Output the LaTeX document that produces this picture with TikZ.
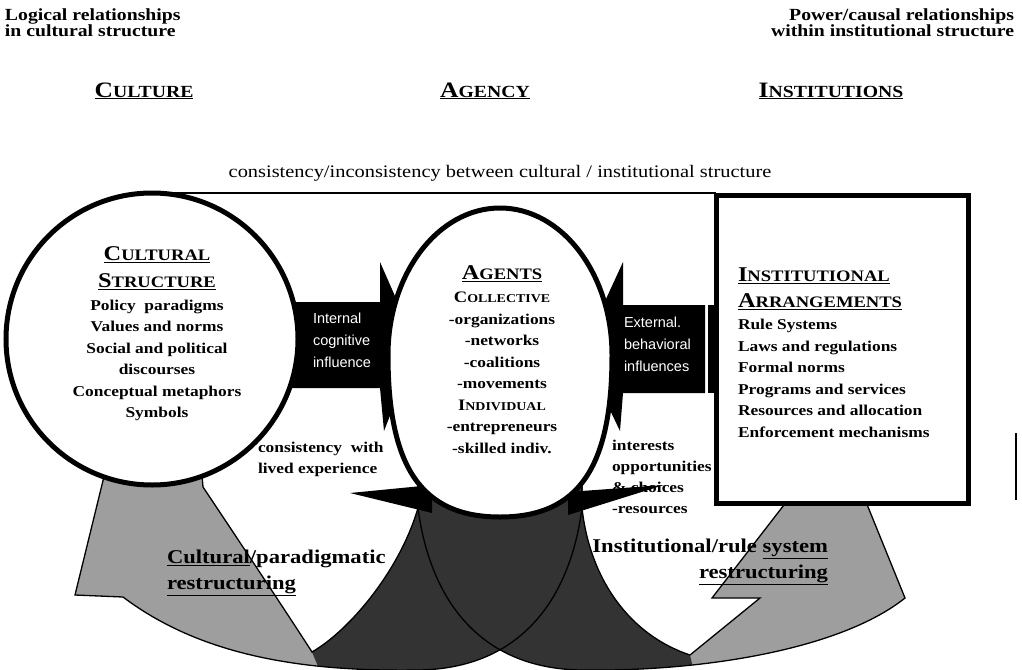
\documentclass[tikz,border=0pt]{standalone}
\usepackage{fontspec}
\setmainfont[FakeStretch=1.16]{Liberation Serif}
\newfontfamily\sansf{Liberation Sans}
\newcommand\SCx[4]{{\fontsize{#1}{#1}\selectfont #3}{\fontsize{#2}{#2}\selectfont #4}}
\definecolor{lightstip}{gray}{0.62}
\definecolor{darkstip}{gray}{0.2}
\tikzset{
  bodytxt/.style={font=\bfseries\fontsize{15}{21.5}\selectfont},
  arrtxt/.style={font=\sansf\fontsize{14.5}{22}\selectfont, text=white, align=left},
  bigtxt/.style={font=\bfseries\fontsize{19.5}{26.5}\selectfont},
  toptxt/.style={font=\bfseries\fontsize{17}{16.5}\selectfont},
  hdr/.style={font=\bfseries},
  thickline/.style={line width=5pt},
  bandline/.style={line width=1.3pt},
}
\def\leftband{(110,452) -- (75,595) -- (123,597)
  .. controls (200,655) and (300,672) .. (420,670)
  .. controls (520,668) and (570,600) .. (582,508)
  -- (582,480) -- (418,480) -- (418,508)
  .. controls (400,570) and (350,630) .. (312,652)
  .. controls (285,610) and (235,535) .. (203,487)
  -- (200,452) -- cycle}
\def\rightband{(418,480) -- (418,508)
  .. controls (430,600) and (480,668) .. (580,670)
  .. controls (700,672) and (840,650) .. (905,598)
  -- (853,470) -- (811,470) -- (712,598) -- (760,598) -- (690,655)
  .. controls (630,635) and (590,580) .. (582,508)
  -- (582,480) -- cycle}
\begin{document}
\begin{tikzpicture}[x=1pt,y=-1pt, every node/.style={inner sep=0pt, outer sep=0pt}]
\useasboundingbox[fill=white] (0,0) rectangle (1022,669);

% curved restructuring arrows
\fill[lightstip] \leftband;
\fill[lightstip] \rightband;
\begin{scope}
  \clip (312,652) -- (328,690) -- (698,690) -- (690,655) -- (640,460) -- (370,460) -- cycle;
  \fill[darkstip] \leftband;
  \fill[darkstip] \rightband;
\end{scope}
\draw[bandline] \leftband;
\draw[bandline] \rightband;

% black influence arrows
\fill[black] (285,302) -- (380,302) -- (380,262) -- (402,312) -- (440,345) -- (402,385) -- (384,431) -- (380,388) -- (285,388) -- cycle;
\fill[black] (705,305) -- (623,305) -- (623,262) -- (600,312) -- (560,345) -- (598,385) -- (620,431) -- (623,393) -- (705,393) -- cycle;
\fill[black] (708,305) rectangle (716,393);
% small barbs below agents
\fill[black] (350,493) -- (432,485) -- (432,513) -- cycle;
\fill[black] (664,485) -- (568,492) -- (568,515) -- cycle;

% cultural structure circle
\node[circle, draw, thickline, fill=white, minimum size=292pt] (cultcirc) at (152,339) {};
% agents oval
\filldraw[fill=white, thickline] (388,355) .. controls (388,274) and (438,208) .. (500,208)
  .. controls (562,208) and (612,274) .. (612,355)
  .. controls (612,468) and (578,517) .. (500,517)
  .. controls (422,517) and (388,468) .. (388,355) -- cycle;
% institutional box
\node[draw, thickline, fill=white, minimum width=252pt, minimum height=308pt, anchor=north west] (instbox) at (716,195) {};
\draw[line width=2.5pt] (cultcirc.north) -- (cultcirc.north -| instbox.west);
% stray scan line
\draw[line width=2pt] (1016,433) -- (1016,500);

% top texts
\node[toptxt, align=left, anchor=north west] (tl) at (5,8.4) {Logical relationships\\in cultural structure};
\node[toptxt, align=right, anchor=north east] (tr) at (1014,8.4) {Power/causal relationships\\within institutional structure};
\node[hdr, anchor=base] (hcult) at (144,97) {\underline{\SCx{22}{17}{C}{ULTURE}}};
\node[hdr, anchor=base] (hagen) at (485,97) {\underline{\SCx{22}{17}{A}{GENCY}}};
\node[hdr, anchor=base] (hinst) at (831,97) {\underline{\SCx{22}{17}{I}{NSTITUTIONS}}};
\node[font=\fontsize{17.6}{19}\selectfont, anchor=base] (title) at (500,177) {consistency/inconsistency between cultural / institutional structure};

% circle text
\node[bodytxt, align=center, anchor=north] (culttxt) at (157,246.2) {\underline{\SCx{21}{16}{C}{ULTURAL}}\\[5.5pt]\underline{\SCx{21}{16}{S}{TRUCTURE}}\\[1.5pt]Policy\ \ paradigms\\Values and norms\\Social and political\\discourses\\Conceptual metaphors\\Symbols};
% agents text
\node[bodytxt, align=center, anchor=north] (agents) at (502,266) {\underline{\SCx{21}{16}{A}{GENTS}}\\[1.5pt]\SCx{16}{12}{C}{OLLECTIVE}\\-organizations\\-networks\\-coalitions\\-movements\\\SCx{16}{12}{I}{NDIVIDUAL}\\-entrepreneurs\\-skilled indiv.};
% institutions text
\node[bodytxt, align=left, anchor=north west] (insttxt) at (738,268) {\underline{\SCx{21}{16}{I}{NSTITUTIONAL}}\\[4.5pt]\underline{\SCx{21}{16}{A}{RRANGEMENTS}}\\[0.5pt]Rule Systems\\Laws and regulations\\Formal norms\\Programs and services\\Resources and allocation\\Enforcement mechanisms};

% arrow texts
\node[arrtxt, anchor=north west] (inttxt) at (313,312.6) {Internal\\cognitive\\influence};
\node[arrtxt, anchor=north west] (exttxt) at (624,316.6) {External.\\behavioral\\influences};

% lower texts
\node[bodytxt, font=\bfseries\fontsize{15}{21}\selectfont, align=left, anchor=north west] (consist) at (258,441.8) {consistency\ \ with\\lived experience};
\node[bodytxt, font=\bfseries\fontsize{15}{21}\selectfont, align=left, anchor=north west] (interests) at (612,439.8) {interests\\opportunities\\\& choices\\-resources};
\node[bigtxt, align=left, anchor=north west] (cultrs) at (167,549.7) {\underline{Cultural}/paradigmatic\\\underline{restructuring}};
\node[bigtxt, font=\bfseries\fontsize{19.5}{26}\selectfont, align=right, anchor=north east] (instrs) at (828,538.7) {Institutional/rule \underline{system}\\\underline{restructuring}};
\end{tikzpicture}
\end{document}
